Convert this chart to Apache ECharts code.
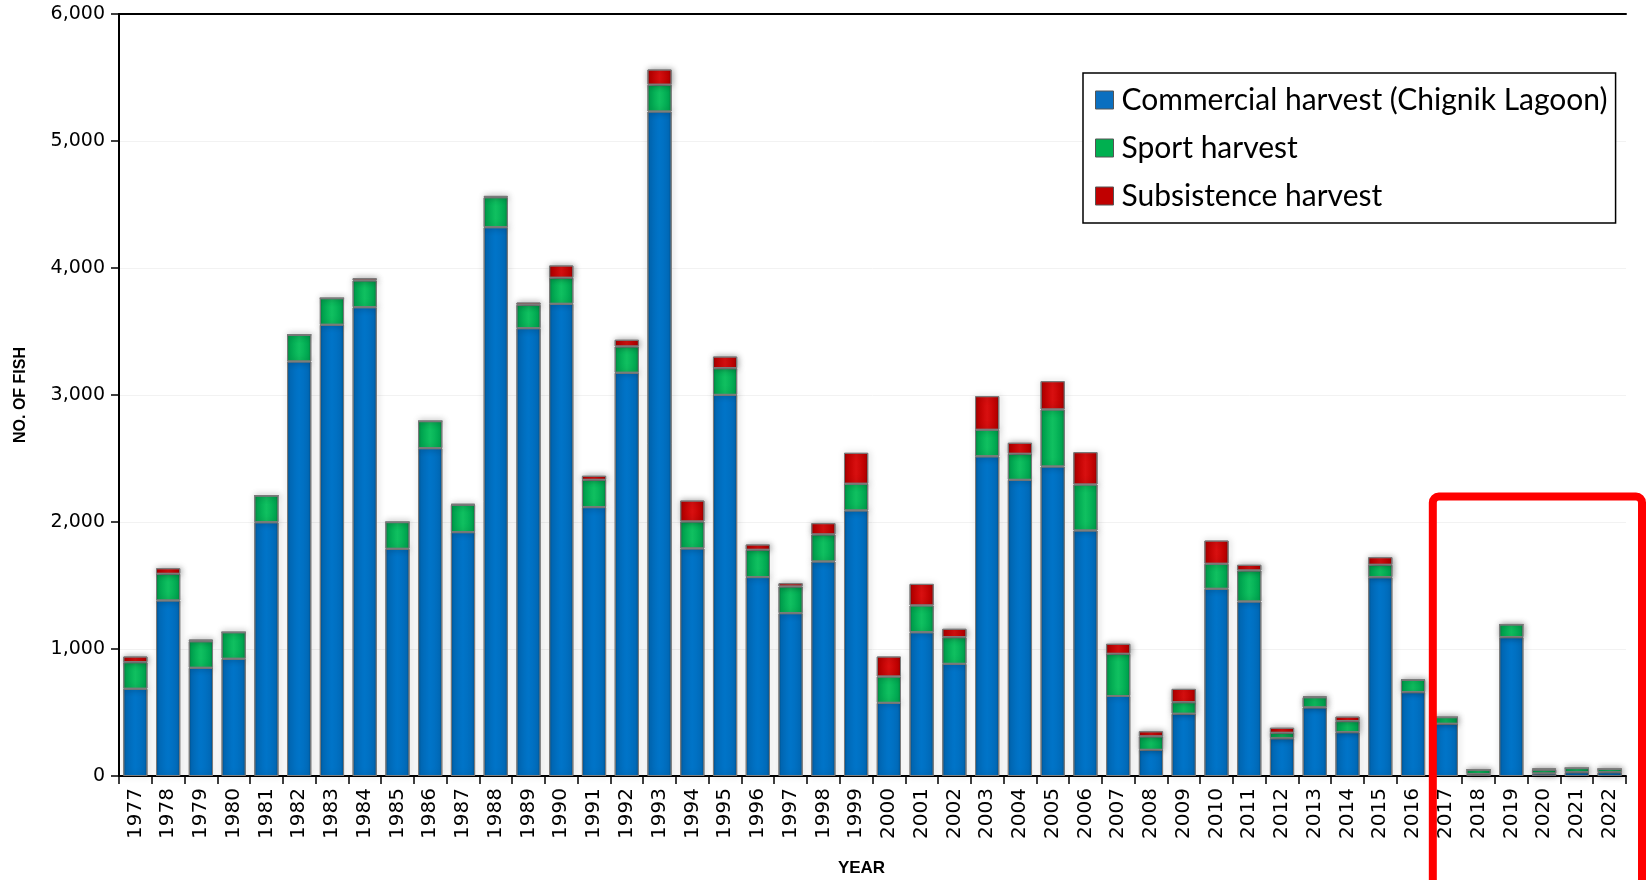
<!DOCTYPE html>
<html>
<head>
<meta charset="utf-8">
<script src="https://cdn.jsdelivr.net/npm/echarts@6/dist/echarts.min.js"></script>
<style>
html,body{margin:0;padding:0;background:#fff;}
#chart{width:1646px;height:880px;}
</style>
</head>
<body>
<div id="chart"></div>
<script>
const years = ['1977','1978','1979','1980','1981','1982','1983','1984','1985','1986','1987','1988','1989','1990','1991','1992','1993','1994','1995','1996','1997','1998','1999','2000','2001','2002','2003','2004','2005','2006','2007','2008','2009','2010','2011','2012','2013','2014','2015','2016','2017','2018','2019','2020','2021','2022'];
const commercial = [687,1382,852,923,1998,3264,3553,3691,1789,2581,1920,4321,3526,3718,2117,3175,5232,1792,3001,1566,1282,1689,2091,576,1132,883,2517,2332,2437,1933,630,206,490,1474,1374,297,540,345,1565,660,411,15,1093,20,30,30];
const sport = [209,210,209,209,210,210,209,211,210,213,215,236,184,205,215,207,211,212,210,215,210,213,210,207,211,210,209,205,449,362,332,106,91,197,244,43,80,87,98,97,52,35,100,30,32,25];
const subsistence = [45,44,14,0,0,0,0,18,0,0,8,11,18,97,32,53,120,165,92,42,26,89,244,158,170,66,265,87,223,255,79,40,105,183,45,40,8,36,60,5,0,0,0,10,0,0];
const seriesNames = ['Commercial harvest (Chignik Lagoon)','Sport harvest','Subsistence harvest'];
const yTicks = [0,1000,2000,3000,4000,5000,6000];

function grad(dark, mid, light){
  return new echarts.graphic.LinearGradient(0,0,1,0,[
    {offset:0,color:dark},{offset:0.12,color:mid},{offset:0.5,color:light},{offset:0.88,color:mid},{offset:1,color:dark}
  ]);
}
const styles = [
  {color: grad('#00508c','#006cbc','#0074c8'), legend:'#0a6fc0'},
  {color: grad('#00803c','#00aa52','#10c060'), legend:'#00b050'},
  {color: grad('#8a0000','#c00000','#d81010'), legend:'#c00000'}
];
const dataSets = [commercial, sport, subsistence];

const chart = echarts.init(document.getElementById('chart'));
const option = {
  animation:false,
  backgroundColor:'#fff',
  grid:{left:119,right:20,top:14,bottom:104, containLabel:false, outerBoundsMode:'none'},
  legend:{
    orient:'vertical', left:1083, top:73,
    data: seriesNames.map((n,i)=>({name:n, itemStyle:{color:styles[i].legend, borderColor:'#555', borderWidth:1}})),
    icon:'rect', itemWidth:18, itemHeight:18, itemGap:18,
    backgroundColor:'#fff', borderColor:'#000', borderWidth:1.5,
    padding:[12,8,12,12],
    textStyle:{fontFamily:'Lato', fontSize:30, color:'#000', padding:[0,0,0,3]}
  },
  xAxis:[{
    type:'category', data:years, position:'bottom',
    axisLine:{lineStyle:{color:'#000', width:2}},
    axisTick:{show:true, length:8, lineStyle:{color:'#000', width:1.5}},
    axisLabel:{rotate:90, margin:12, fontFamily:'DejaVu Sans', fontSize:20, color:'#000'},
    name:'YEAR', nameLocation:'middle', nameGap:84,
    nameTextStyle:{fontFamily:'Liberation Sans', fontWeight:'bold', fontSize:17, color:'#000', padding:[0,22,0,0]}
  },{
    type:'category', data:years, position:'top',
    axisLine:{lineStyle:{color:'#000', width:2}},
    axisTick:{show:false}, axisLabel:{show:false}
  }],
  yAxis:{
    type:'value', min:0, max:6000, interval:1000,
    axisLine:{show:true, lineStyle:{color:'#000', width:2}},
    axisTick:{show:true, length:8, lineStyle:{color:'#000', width:1.5}},
    splitLine:{show:true, lineStyle:{color:'#f2f2f2', width:1}},
    axisLabel:{fontFamily:'DejaVu Sans', fontSize:19, color:'#000', margin:14,
      formatter:v=>v.toLocaleString('en-US')},
    name:'NO. OF FISH', nameLocation:'middle', nameGap:90, nameRotate:90,
    nameTextStyle:{fontFamily:'Liberation Sans', fontWeight:'bold', fontSize:16, color:'#000'}
  },
  series: seriesNames.map((n,i)=>({
    name:n, type:'bar', stack:'total', barWidth:'74%',
    data: dataSets[i],
    itemStyle:{color:styles[i].color, borderColor:'#7a7a7a', borderWidth:1,
      shadowColor:'rgba(0,0,0,0.35)', shadowBlur:6, shadowOffsetX:1, shadowOffsetY:0}
  }))
};
chart.setOption(option);

// red annotation box around 2017-2022
const boxLeft = chart.convertToPixel({xAxisIndex:0}, '2017') - 13;
const boxTop = chart.convertToPixel({yAxisIndex:0}, 2200);
chart.setOption({graphic:[{
  type:'rect', shape:{x:boxLeft, y:boxTop, width:1642-boxLeft, height:900-boxTop, r:6},
  style:{fill:'none', stroke:'#ff0000', lineWidth:8}, z:100
}]});
</script>
</body>
</html>
